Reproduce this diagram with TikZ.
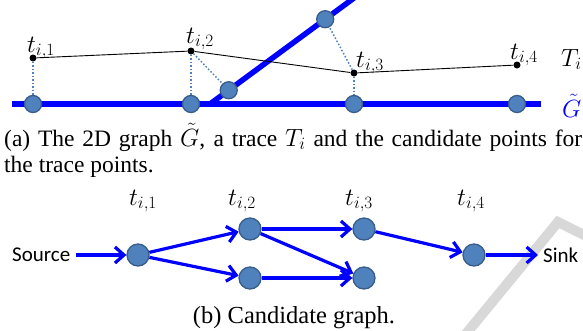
\documentclass[tikz,border=0pt]{standalone}
\usepackage{fontspec}
\setmainfont{Liberation Serif}
\newfontfamily\calib{Carlito}
\usetikzlibrary{arrows.meta,calc}
\definecolor{pureblue}{RGB}{0,0,255}
\definecolor{candfill}{RGB}{79,129,189}
\definecolor{canddraw}{RGB}{56,93,138}
\definecolor{wmark}{RGB}{216,216,216}
\begin{document}
\begin{tikzpicture}[x=1pt,y=-1pt,
  cand/.style={circle, fill=candfill, draw=canddraw, line width=1.3pt, minimum size=17pt, inner sep=0pt},
  bigcand/.style={cand, minimum size=22pt},
  tracept/.style={circle, fill=black, minimum size=7pt, inner sep=0pt},
  road/.style={pureblue, line width=5.5pt},
  proj/.style={candfill, line width=1.5pt, dotted},
  trace/.style={black, line width=0.9pt},
  edge/.style={pureblue, line width=3.2pt, -{Straight Barb[length=9pt,width=16pt]}},
  tlab/.style={font=\fontsize{26}{26}\selectfont, inner sep=0pt, anchor=base west},
  tside/.style={font=\fontsize{24}{24}\selectfont, inner sep=0pt, anchor=base west},
  captext/.style={font=\fontsize{23.5}{23.5}\selectfont, inner sep=0pt, anchor=base west},
  side/.style={font=\calib\fontsize{21}{21}\selectfont, inner sep=0pt}]
\useasboundingbox (0,0) rectangle (583,330);
% watermark
\draw[wmark, line width=10pt] (590,238) -- (558,222) -- (465,335);
% road network
\coordinate (rL) at (12,104);
\coordinate (rR) at (541,104);
\coordinate (dA) at (210,104);
\coordinate (dB) at (354,-2);
\draw[road] (rL) -- (rR);
\draw[road] (dA) -- (dB);
% candidates
\node[cand] (c1) at (33,104) {};
\node[cand] (c2) at (191,104) {};
\node[cand] (c3) at (354,104) {};
\node[cand] (c4) at (517,104) {};
\node[cand] (d1) at ($(dA)!0.13!(dB)$) {};
\node[cand] (d2) at ($(dA)!0.80!(dB)$) {};
% trace points
\node[tracept] (p1) at (33,58) {};
\node[tracept] (p2) at (191,51) {};
\node[tracept] (p3) at (354,73) {};
\node[tracept] (p4) at (517,65) {};
\draw[proj] (p1) -- (c1);
\draw[proj] (p2) -- (c2);
\draw[proj] (p2) -- (d1);
\draw[proj] (p3) -- (c3);
\draw[proj] (p3) -- (d2);
\draw[trace] (p1) -- (p2) -- (p3) -- (p4);
% labels
\node[tlab] (l1) at (27,52) {$t_{i,1}$};
\node[tlab] (l2) at (186,43) {$t_{i,2}$};
\node[tlab] (l3) at (356,67) {$t_{i,3}$};
\node[tlab] (l4) at (510,59) {$t_{i,4}$};
\node[tside] (Tl) at (561,66) {$T_i$};
\node[tside, text=pureblue] (Gl) at (562,117) {$\tilde{G}$};
% caption a
\node[captext] (capa1) at (4,146) {\makebox[578pt][s]{(a) The 2D graph $\tilde{G}$, a trace $T_i$ and the candidate points for}};
\node[captext] (capa2) at (4,172) {the trace points.};
% candidate graph
\node[side, anchor=west] (src) at (12,255) {Source};
\node[bigcand] (n1) at (138,255) {};
\node[bigcand] (n2a) at (250,229) {};
\node[bigcand] (n2b) at (250,278) {};
\node[bigcand] (n3a) at (364,229) {};
\node[bigcand] (n3b) at (364,278) {};
\node[bigcand] (n4) at (474,255) {};
\node[side, anchor=west] (snk) at (543,255) {Sink};
\draw[edge, shorten <=6pt] (src) -- (n1);
\draw[edge] (n1) -- (n2a);
\draw[edge] (n1) -- (n2b);
\draw[edge] (n2a) -- (n3a);
\draw[edge] (n2a) -- (n3b);
\draw[edge] (n2b) -- (n3b);
\draw[edge] (n3a) -- (n4);
\draw[edge, shorten >=5pt] (n4) -- (snk);
\node[tlab] (b1) at (129,205) {$t_{i,1}$};
\node[tlab] (b2) at (228,205) {$t_{i,2}$};
\node[tlab] (b3) at (345,205) {$t_{i,3}$};
\node[tlab] (b4) at (457,205) {$t_{i,4}$};
% caption b
\node[captext, font=\fontsize{24.5}{24.5}\selectfont, anchor=base] (capb) at (294,323) {(b) Candidate graph.};
\end{tikzpicture}
\end{document}
